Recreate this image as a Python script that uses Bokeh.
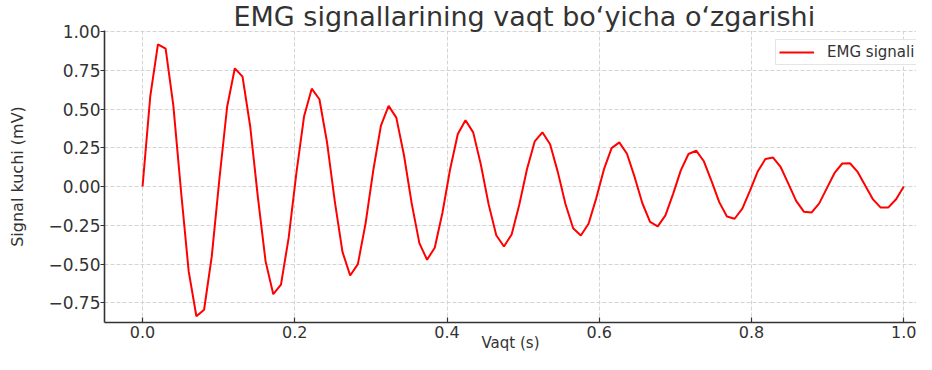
import numpy as np
from bokeh.plotting import figure
from bokeh.models import Range1d, FixedTicker
from bokeh.embed import file_html
from bokeh.resources import INLINE

# ---- data ----
time_s = np.linspace(0.0, 1.0, 100)
emg_mv = [
    0.0000, 0.5810, 0.9171, 0.8894, 0.5230, -0.0287, -0.5476, -0.8368, -0.7948, -0.4507,
    0.0518, 0.5147, 0.7626, 0.7094, 0.3872, -0.0702, -0.4826, -0.6943, -0.6323, -0.3312,
    0.0845, 0.4515, 0.6314, 0.5630, 0.2822, -0.0953, -0.4213, -0.5737, -0.5007, -0.2392,
    0.1033, 0.3927, 0.5206, 0.4446, 0.2017, -0.1086, -0.3652, -0.4721, -0.3943, -0.1690,
    0.1119, 0.3390, 0.4276, 0.3493, 0.1406, -0.1135, -0.3142, -0.3869, -0.3089, -0.1159,
    0.1136, 0.2907, 0.3497, 0.2728, 0.0946, -0.1126, -0.2686, -0.3158, -0.2405, -0.0762,
    0.1106, 0.2478, 0.2849, 0.2116, 0.0605, -0.1078, -0.2283, -0.2567, -0.1860, -0.0470,
    0.1045, 0.2100, 0.2311, 0.1630, 0.0354, -0.1007, -0.1930, -0.2078, -0.1427, -0.0257,
    0.0966, 0.1771, 0.1867, 0.1246, 0.0174, -0.0922, -0.1623, -0.1676, -0.1086, -0.0105,
    0.0877, 0.1486, 0.1503, 0.0944, 0.0047, -0.0832, -0.1359, -0.1345, -0.0819, 0.0000,
]
x_ticks = [0.0, 0.2, 0.4, 0.6, 0.8, 1.0]
x_tick_labels = ["0.0", "0.2", "0.4", "0.6", "0.8", "1.0"]
y_ticks = [-0.75, -0.50, -0.25, 0.00, 0.25, 0.50, 0.75, 1.00]
y_tick_labels = ["\u22120.75", "\u22120.50", "\u22120.25", "0.00", "0.25", "0.50", "0.75", "1.00"]

title_text = "EMG signallarining vaqt bo\u2018yicha o\u2018zgarishi"
x_label = "Vaqt (s)"
y_label = "Signal kuchi (mV)"
series_label = "EMG signali"

FONT = "DejaVu Sans"
TXT = "#333333"

p = figure(
    width=916, height=354,
    output_backend="svg", toolbar_location=None,
    x_range=Range1d(-0.05, 1.0167), y_range=Range1d(-0.877, 1.0065),
    min_border_left=104, min_border_right=0, min_border_top=0, min_border_bottom=0,
)
p.background_fill_color = "white"
p.border_fill_color = "white"
p.outline_line_color = None

p.title.text = title_text
p.title.text_font = FONT
p.title.text_font_size = "27px"
p.title.text_font_style = "normal"
p.title.text_color = TXT
p.title.align = "left"
p.title.standoff = -3
p.title.offset = 129

p.line(time_s, emg_mv, line_color="#ff0000", line_width=2, legend_label=series_label)

# axes
for ax in (p.xaxis[0], p.yaxis[0]):
    ax.axis_line_color = TXT
    ax.axis_line_width = 1.6
    ax.major_tick_line_color = TXT
    ax.major_tick_line_width = 1.2
    ax.minor_tick_line_color = None
    ax.major_label_text_font = FONT
    ax.major_label_text_color = TXT
    ax.axis_label_text_font = FONT
    ax.axis_label_text_color = TXT
    ax.axis_label_text_font_style = "normal"

p.xaxis.ticker = FixedTicker(ticks=x_ticks)
p.xaxis.major_label_overrides = dict(zip(x_ticks, x_tick_labels))
p.xaxis.major_tick_in = 5
p.xaxis.major_tick_out = 0
p.xaxis.major_label_standoff = 3
p.xaxis.major_label_text_font_size = "16px"
p.xaxis.axis_label = x_label
p.xaxis.axis_label_text_font_size = "15px"
p.xaxis.axis_label_standoff = -7

p.yaxis.ticker = FixedTicker(ticks=y_ticks)
p.yaxis.major_label_overrides = dict(zip(y_ticks, y_tick_labels))
p.yaxis.major_tick_in = 0
p.yaxis.major_tick_out = 4
p.yaxis.major_label_standoff = 0
p.yaxis.major_label_text_font_size = "17px"
p.yaxis.axis_label = y_label
p.yaxis.axis_label_text_font_size = "16px"
p.yaxis.axis_label_standoff = 18

# grid
for g in (p.xgrid[0], p.ygrid[0]):
    g.grid_line_color = "#d4d4d4"
    g.grid_line_width = 1
    g.grid_line_dash = "4 2"
p.xgrid.ticker = FixedTicker(ticks=x_ticks)
p.ygrid.ticker = FixedTicker(ticks=y_ticks)

# legend
lg = p.legend[0]
lg.location = (671, 257)
lg.padding = 3
lg.spacing = 0
lg.label_text_font = FONT
lg.label_text_font_size = "15px"
lg.label_text_color = TXT
lg.label_height = 18
lg.glyph_height = 18
lg.glyph_width = 35
lg.label_standoff = 13
lg.border_line_color = "#cccccc"
lg.border_line_width = 1
lg.background_fill_alpha = 0.85

open("out.html", "w").write(file_html(p, INLINE))
